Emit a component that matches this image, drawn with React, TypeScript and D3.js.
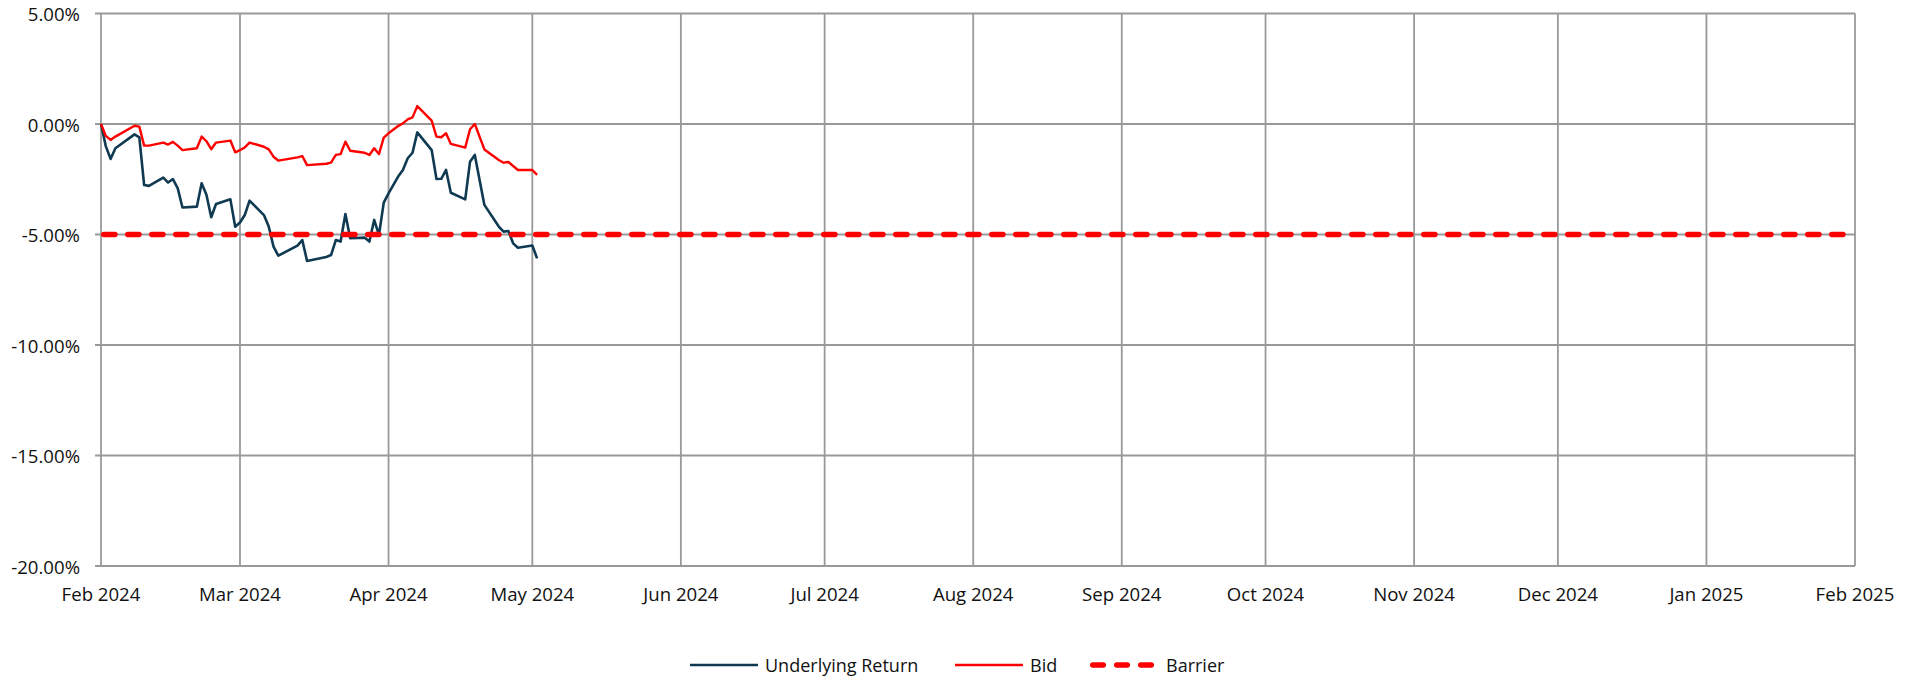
import React from "react";
import * as d3 from "d3";

const DATES = [
  "2024-02-01", "2024-02-02", "2024-02-03", "2024-02-04", "2024-02-08", "2024-02-09", "2024-02-10", "2024-02-11",
  "2024-02-14", "2024-02-15", "2024-02-16", "2024-02-17", "2024-02-18", "2024-02-21", "2024-02-22", "2024-02-23",
  "2024-02-24", "2024-02-25", "2024-02-28", "2024-02-29", "2024-03-01", "2024-03-02", "2024-03-03", "2024-03-06",
  "2024-03-07", "2024-03-08", "2024-03-09", "2024-03-13", "2024-03-14", "2024-03-15", "2024-03-19", "2024-03-20",
  "2024-03-21", "2024-03-22", "2024-03-23", "2024-03-24", "2024-03-27", "2024-03-28", "2024-03-29", "2024-03-30",
  "2024-03-31", "2024-04-01", "2024-04-03", "2024-04-04", "2024-04-05", "2024-04-06", "2024-04-07", "2024-04-10",
  "2024-04-11", "2024-04-12", "2024-04-13", "2024-04-14", "2024-04-17", "2024-04-18", "2024-04-19", "2024-04-21",
  "2024-04-24", "2024-04-25", "2024-04-26", "2024-04-27", "2024-04-28", "2024-05-01", "2024-05-02",
];

const UNDERLYING_RETURN = [
  0, -1.0, -1.58, -1.1, -0.47, -0.6, -2.76, -2.8, -2.43, -2.65, -2.49, -2.9, -3.78, -3.74, -2.68, -3.2,
  -4.22, -3.62, -3.41, -4.65, -4.46, -4.12, -3.47, -4.12, -4.64, -5.55, -5.96, -5.5, -5.25, -6.2, -6.02, -5.93,
  -5.25, -5.32, -4.07, -5.17, -5.14, -5.32, -4.34, -5.02, -3.56, -3.14, -2.38, -2.08, -1.55, -1.3, -0.38, -1.18,
  -2.49, -2.48, -2.08, -3.11, -3.41, -1.71, -1.4, -3.66, -4.64, -4.87, -4.84, -5.4, -5.6, -5.5, -6.08,
];

const BID = [
  0, -0.54, -0.72, -0.57, -0.08, -0.12, -0.98, -0.98, -0.84, -0.93, -0.81, -0.98, -1.18, -1.1, -0.57, -0.78,
  -1.14, -0.84, -0.75, -1.28, -1.18, -1.06, -0.84, -1.03, -1.15, -1.48, -1.66, -1.51, -1.45, -1.86, -1.8, -1.75,
  -1.4, -1.36, -0.8, -1.21, -1.3, -1.4, -1.1, -1.36, -0.62, -0.42, -0.09, 0.03, 0.21, 0.3, 0.81, 0.15,
  -0.57, -0.6, -0.42, -0.9, -1.07, -0.24, 0.0, -1.15, -1.63, -1.75, -1.72, -1.9, -2.08, -2.08, -2.3,
];

const BARRIER_DATES = ["2024-02-01", "2025-02-01"];
const BARRIER_LEVEL = -5;

const X_DOMAIN = ["2024-02-01", "2025-02-01"];
const Y_TICKS = [5, 0, -5, -10, -15, -20];

const SERIES_NAMES = ["Underlying Return", "Bid", "Barrier"];
const COLORS = ["#0f3a52", "#ff0000", "#ff0000"];

const W = 1919;
const H = 678;
const LEFT = 101;
const RIGHT = 1855;
const TOP = 13.5;
const BOTTOM = 566;
const FONT = "'Open Sans', sans-serif";

export default function App() {
  const parse = d3.timeParse("%Y-%m-%d");
  const x = d3
    .scaleTime()
    .domain(X_DOMAIN.map((s) => parse(s) as Date))
    .range([LEFT, RIGHT]);
  const y = d3.scaleLinear().domain([-20, 5]).range([BOTTOM, TOP]);

  const months = d3.timeMonth.range(x.domain()[0], d3.timeDay.offset(x.domain()[1], 1));
  const fmt = d3.timeFormat("%b %Y");

  const line = d3
    .line<[Date, number]>()
    .x((d) => x(d[0]))
    .y((d) => y(d[1]));

  const dates = DATES.map((s) => parse(s) as Date);
  const uPath = line(dates.map((d, i) => [d, UNDERLYING_RETURN[i]]));
  const bPath = line(dates.map((d, i) => [d, BID[i]]));
  const barPath = line(BARRIER_DATES.map((s) => [parse(s) as Date, BARRIER_LEVEL]));

  const legendY = 665;
  const legendItems = [
    { x1: 690, x2: 758, tx: 765 },
    { x1: 955, x2: 1023, tx: 1030 },
    { x1: 1090, x2: 1152, tx: 1166 },
  ];

  return (
    <svg
      width={W}
      height={H}
      style={{ position: "absolute", left: 0, top: 0, background: "#fff" }}
      fontFamily={FONT}
    >
      <rect x={0} y={0} width={W} height={H} fill="#fff" />
      {Y_TICKS.map((t) => (
        <line
          key={"h" + t}
          x1={LEFT - 6}
          x2={RIGHT}
          y1={y(t)}
          y2={y(t)}
          stroke="#999"
          strokeWidth={1.8}
        />
      ))}
      {months.map((m) => (
        <line
          key={"v" + m.getTime()}
          x1={x(m)}
          x2={x(m)}
          y1={TOP}
          y2={BOTTOM}
          stroke="#999"
          strokeWidth={1.8}
        />
      ))}
      {Y_TICKS.map((t) => (
        <text
          key={"yl" + t}
          x={80}
          y={y(t)}
          textAnchor="end"
          dominantBaseline="central"
          fontSize={18.6}
          fill="#111"
        >
          {t.toFixed(2) + "%"}
        </text>
      ))}
      {months.map((m) => (
        <text
          key={"xl" + m.getTime()}
          x={x(m)}
          y={593}
          textAnchor="middle"
          dominantBaseline="central"
          fontSize={18.6}
          fill="#111"
        >
          {fmt(m)}
        </text>
      ))}
      <path d={uPath || ""} fill="none" stroke={COLORS[0]} strokeWidth={2.6} strokeLinejoin="round" />
      <path d={bPath || ""} fill="none" stroke={COLORS[1]} strokeWidth={2.4} strokeLinejoin="round" />
      <path
        d={barPath || ""}
        fill="none"
        stroke={COLORS[2]}
        strokeWidth={5.5}
        strokeDasharray="11.2 12.8"
        strokeDashoffset={-2.75}
        strokeLinecap="round"
      />
      <line x1={legendItems[0].x1} x2={legendItems[0].x2} y1={legendY} y2={legendY} stroke={COLORS[0]} strokeWidth={2.6} />
      <line x1={legendItems[1].x1} x2={legendItems[1].x2} y1={legendY} y2={legendY} stroke={COLORS[1]} strokeWidth={2.4} />
      <line
        x1={legendItems[2].x1 + 2.75}
        x2={legendItems[2].x2}
        y1={legendY}
        y2={legendY}
        stroke={COLORS[2]}
        strokeWidth={5.5}
        strokeDasharray="10.5 13.5"
        strokeLinecap="round"
      />
      {SERIES_NAMES.map((n, i) => (
        <text
          key={n}
          x={legendItems[i].tx}
          y={legendY}
          dominantBaseline="central"
          fontSize={18}
          fill="#111"
        >
          {n}
        </text>
      ))}
    </svg>
  );
}
